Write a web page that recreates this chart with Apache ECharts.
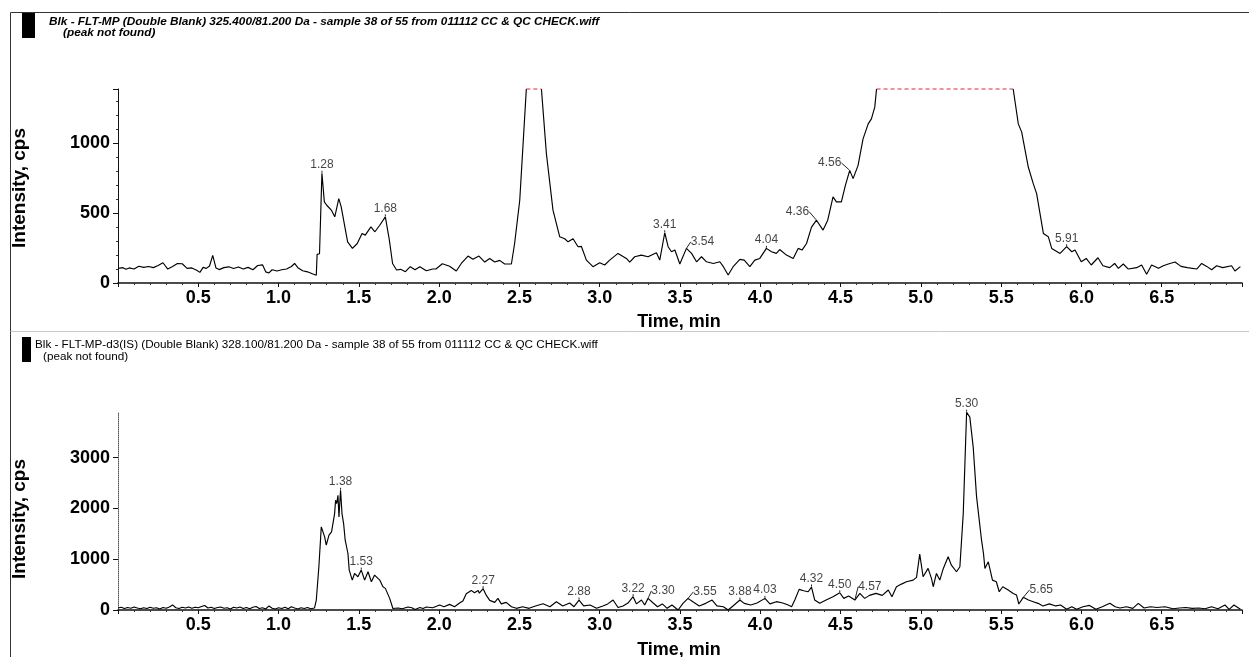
<!DOCTYPE html>
<html><head><meta charset="utf-8">
<script src="https://cdn.jsdelivr.net/npm/echarts@6/dist/echarts.min.js"></script>
<style>html,body{margin:0;padding:0;background:#fff}#c{width:1249px;height:657px}</style>
</head><body><div id="c"></div>
<script>
// ---------- DATA ----------
const topTitle = 'Blk - FLT-MP (Double Blank) 325.400/81.200 Da - sample 38 of 55 from 011112 CC & QC CHECK.wiff';
const bottomTitle = 'Blk - FLT-MP-d3(IS) (Double Blank) 328.100/81.200 Da - sample 38 of 55 from 011112 CC & QC CHECK.wiff';
const subTitle = '(peak not found)';
const xTitle = 'Time, min';
const yTitle = 'Intensity, cps';

const topSaturation = 1390;          // detector saturation level (cps)
const topSaturatedRanges = [[2.543, 2.637], [4.724, 5.575]];

// [time (min), intensity (cps)]
const topTrace = [
[0.00,105],[0.03,110],[0.05,98],[0.07,108],[0.10,100],[0.13,120],[0.16,112],[0.19,118],[0.22,110],[0.25,125],
[0.28,145],[0.31,100],[0.34,118],[0.37,140],[0.40,138],[0.43,105],[0.46,108],[0.49,92],[0.51,76],[0.53,112],
[0.55,105],[0.57,122],[0.59,198],[0.61,108],[0.63,96],[0.66,110],[0.69,116],[0.72,104],[0.75,115],[0.78,100],
[0.81,112],[0.84,95],[0.87,125],[0.90,130],[0.92,80],[0.94,72],[0.96,95],[0.99,86],[1.02,95],[1.05,100],
[1.08,118],[1.10,140],[1.12,110],[1.15,88],[1.18,80],[1.21,66],[1.235,55],[1.24,205],[1.255,210],[1.27,786],
[1.285,581],[1.30,557],[1.33,520],[1.35,474],[1.375,605],[1.39,545],[1.43,295],[1.46,248],[1.49,283],[1.52,355],
[1.54,343],[1.575,402],[1.60,367],[1.63,414],[1.665,474],[1.69,307],[1.71,140],[1.735,93],[1.76,98],[1.79,81],
[1.82,117],[1.85,95],[1.88,117],[1.92,88],[1.96,100],[1.98,100],[2.02,138],[2.065,120],[2.107,86],[2.138,140],
[2.18,193],[2.21,170],[2.248,193],[2.284,150],[2.315,176],[2.346,150],[2.377,162],[2.408,136],[2.45,136],[2.47,283],
[2.502,593],[2.543,1390],[2.59,null],[2.637,1390],[2.668,926],[2.709,522],[2.751,331],[2.782,317],[2.803,295],[2.834,317],
[2.865,260],[2.886,262],[2.917,164],[2.958,117],[3.0,145],[3.031,129],[3.062,164],[3.114,212],[3.166,176],[3.187,150],
[3.218,188],[3.259,200],[3.301,188],[3.353,217],[3.374,164],[3.405,360],[3.426,260],[3.447,224],[3.468,236],[3.499,136],
[3.54,248],[3.572,212],[3.603,152],[3.634,188],[3.665,152],[3.707,140],[3.748,152],[3.77,117],[3.80,57],[3.831,117],
[3.873,169],[3.90,164],[3.935,117],[3.966,164],[3.997,176],[4.038,248],[4.07,224],[4.10,212],[4.121,240],[4.163,200],
[4.205,176],[4.236,248],[4.26,236],[4.288,283],[4.319,400],[4.35,450],[4.391,379],[4.42,450],[4.453,617],[4.474,581],
[4.505,581],[4.53,700],[4.557,807],[4.578,748],[4.609,843],[4.640,1033],[4.65,1033],[4.672,1140],[4.692,1176],[4.713,1260],
[4.724,1390],[5.10,null],[5.575,1390],[5.607,1140],[5.628,1081],[5.669,831],[5.700,712],[5.721,640],[5.763,355],[5.794,331],
[5.815,248],[5.867,212],[5.908,260],[5.94,224],[5.96,236],[5.999,152],[6.03,176],[6.061,129],[6.103,181],[6.134,124],
[6.176,110],[6.207,140],[6.23,105],[6.261,136],[6.292,100],[6.344,110],[6.375,129],[6.406,62],[6.437,129],[6.48,105],
[6.51,124],[6.541,136],[6.583,150],[6.62,119],[6.66,110],[6.718,100],[6.749,140],[6.78,119],[6.811,95],[6.842,124],
[6.88,110],[6.935,124],[6.956,86],[6.99,117]
];

const bottomTrace = [
[0.00,40],[0.02,55],[0.04,30],[0.06,50],[0.08,35],[0.10,60],[0.12,40],[0.14,25],[0.16,45],[0.18,30],
[0.20,55],[0.22,35],[0.24,45],[0.26,20],[0.28,50],[0.30,35],[0.32,60],[0.34,100],[0.36,45],[0.38,30],
[0.40,55],[0.42,40],[0.44,60],[0.46,35],[0.48,55],[0.50,45],[0.52,70],[0.54,90],[0.56,40],[0.58,55],
[0.60,30],[0.62,50],[0.64,60],[0.66,35],[0.68,45],[0.70,20],[0.72,55],[0.74,40],[0.76,60],[0.78,30],
[0.80,50],[0.82,25],[0.84,55],[0.86,70],[0.88,30],[0.90,45],[0.92,20],[0.94,80],[0.96,35],[0.98,20],
[1.00,45],[1.02,30],[1.04,55],[1.06,25],[1.08,65],[1.10,40],[1.12,20],[1.14,45],[1.16,30],[1.18,50],
[1.20,25],[1.224,40],[1.235,196],[1.251,851],[1.266,1637],[1.287,1440],[1.297,1277],[1.314,1473],[1.33,1539],[1.349,1899],
[1.355,2161],[1.362,2096],[1.370,2260],[1.376,1833],[1.386,2358],[1.395,1899],[1.405,1703],[1.415,1375],[1.432,1113],[1.44,786],
[1.459,589],[1.473,720],[1.494,655],[1.515,786],[1.536,589],[1.557,753],[1.578,557],[1.598,688],[1.63,589],[1.650,458],
[1.665,426],[1.692,229],[1.712,30],[1.744,40],[1.77,25],[1.806,60],[1.83,45],[1.85,10],[1.88,50],[1.90,30],
[1.920,59],[1.96,45],[2.003,98],[2.03,65],[2.065,111],[2.096,65],[2.127,137],[2.148,177],[2.169,321],[2.200,386],
[2.22,340],[2.243,386],[2.25,330],[2.274,419],[2.294,288],[2.315,190],[2.346,150],[2.366,229],[2.387,120],[2.418,150],
[2.450,65],[2.481,33],[2.52,65],[2.56,33],[2.60,80],[2.647,124],[2.69,65],[2.730,164],[2.77,80],[2.813,137],
[2.84,65],[2.871,196],[2.90,80],[2.94,98],[2.98,33],[3.02,80],[3.05,120],[3.083,196],[3.114,50],[3.145,80],
[3.176,137],[3.208,262],[3.229,120],[3.26,196],[3.28,98],[3.301,229],[3.333,137],[3.36,65],[3.39,120],[3.42,33],
[3.45,98],[3.488,0],[3.52,137],[3.550,229],[3.58,164],[3.62,80],[3.66,131],[3.70,196],[3.73,80],[3.77,65],
[3.80,0],[3.83,80],[3.873,196],[3.90,131],[3.94,98],[3.98,137],[4.029,229],[4.06,120],[4.10,164],[4.14,137],
[4.174,98],[4.195,65],[4.215,196],[4.242,406],[4.27,380],[4.298,360],[4.319,452],[4.339,196],[4.37,131],[4.41,196],
[4.453,262],[4.495,340],[4.52,229],[4.55,275],[4.589,196],[4.620,327],[4.65,229],[4.68,288],[4.72,327],[4.76,288],
[4.797,393],[4.82,262],[4.848,458],[4.879,510],[4.910,557],[4.952,589],[4.973,642],[4.993,1100],[5.014,655],[5.045,819],
[5.066,622],[5.077,458],[5.097,720],[5.118,589],[5.14,819],[5.170,1048],[5.19,884],[5.222,753],[5.243,851],[5.264,1899],
[5.285,3896],[5.305,3798],[5.326,3209],[5.347,2227],[5.378,1375],[5.39,1113],[5.399,819],[5.42,950],[5.446,589],[5.47,557],
[5.488,360],[5.51,458],[5.544,393],[5.575,327],[5.596,295],[5.61,118],[5.638,249],[5.67,196],[5.70,164],[5.73,131],
[5.76,80],[5.80,120],[5.84,80],[5.87,98],[5.908,13],[5.94,65],[5.97,13],[6.01,65],[6.05,90],[6.09,13],
[6.13,65],[6.177,131],[6.21,65],[6.24,40],[6.28,65],[6.32,33],[6.354,131],[6.39,40],[6.43,65],[6.47,50],
[6.52,65],[6.57,25],[6.61,40],[6.65,50],[6.69,33],[6.73,40],[6.77,25],[6.81,65],[6.85,25],[6.894,98],
[6.92,13],[6.95,98],[6.99,13]
];

// labelled peaks [time, cps]
const topPeaks = [[1.27,786],[1.665,474],[3.405,360],[3.54,248],[4.038,248],[4.35,450],[4.557,807],[5.908,260]];
const topPeakLabels = ['1.28','1.68','3.41','3.54','4.04','4.36','4.56','5.91'];
const bottomPeaks = [[1.386,2358],[1.515,786],[2.274,419],[2.871,196],[3.208,262],[3.301,229],[3.550,229],[3.873,196],[4.029,229],[4.319,452],[4.495,340],[4.589,196],[5.285,3896],[5.638,249]];
const bottomPeakLabels = ['1.38','1.53','2.27','2.88','3.22','3.30','3.55','3.88','4.03','4.32','4.50','4.57','5.30','5.65'];

const topYTicks = {min: 0, max: 1390, step: 500};
const bottomYTicks = {min: 0, max: 3900, step: 1000};
const xTicks = {min: 0, max: 7, step: 0.5};

// ---------- STYLE / LAYOUT ----------
const FONT = '"Liberation Sans", Arial, sans-serif';
const leaderShift = { // label displacement (px) for labels drawn with a leader line
  top: {'3.54': [16, 2], '4.36': [-19, 0], '4.56': [-20, 1]},
  bottom: {'3.30': [15, 1], '3.55': [17, 2], '4.57': [15, -5], '5.65': [18, 1]}
};

const chart = echarts.init(document.getElementById('c'), null, {renderer: 'canvas'});

function xAxis(gi) {
  return {
    type: 'value', gridIndex: gi, min: xTicks.min, max: xTicks.max, interval: xTicks.step,
    axisLine: {show: true, onZero: false, lineStyle: {color: '#111', width: 1.5}},
    axisTick: {show: true, length: 4, lineStyle: {color: '#111'}},
    minorTick: {show: true, splitNumber: 5, length: 2, lineStyle: {color: '#333'}},
    axisLabel: {show: true, showMinLabel: false, showMaxLabel: false, margin: 6, color: '#000',
      fontFamily: FONT, fontSize: 18, fontWeight: 'bold', formatter: v => v.toFixed(1)},
    splitLine: {show: false}
  };
}
function yAxis(gi, t, dotted) {
  return {
    type: 'value', gridIndex: gi, min: t.min, max: t.max, interval: t.step,
    axisLine: {show: true, onZero: false, lineStyle: {color: dotted ? '#555' : '#111', width: 1, type: dotted ? 'dotted' : 'solid'}},
    axisTick: {show: true, length: 5, lineStyle: {color: '#111'}},
    minorTick: {show: !dotted, splitNumber: 5, length: 2, lineStyle: {color: '#333'}},
    axisLabel: {show: true, showMaxLabel: false, margin: 8, color: '#000',
      fontFamily: FONT, fontSize: 18, fontWeight: 'bold', formatter: v => String(v)},
    splitLine: {show: false}
  };
}
function peakSeries(xi, peaks, labels, shifts) {
  return {
    type: 'scatter', xAxisIndex: xi, yAxisIndex: xi, symbolSize: 1, z: 5,
    itemStyle: {color: 'rgba(0,0,0,0)'},
    data: peaks.map((p, i) => ({value: p, name: labels[i]})),
    label: {show: true, position: 'top', distance: 2, formatter: p => p.name,
      color: '#111', fontFamily: FONT, fontSize: 12},
    labelLine: {show: true, lineStyle: {color: '#222', width: 1}},
    labelLayout: function (params) {
      const s = shifts[params.text];
      return s ? {dx: s[0], dy: s[1]} : {};
    },
    silent: true
  };
}

const satData = [];
topSaturatedRanges.forEach((r, i) => {
  if (i) satData.push([r[0] - 0.01, null]);
  satData.push([r[0], topSaturation], [r[1], topSaturation]);
});

const option = {
  backgroundColor: '#fff',
  animation: false,
  grid: [
    {left: 118, right: 7, top: 89, height: 194},
    {left: 118, right: 7, top: 412, height: 198}
  ],
  xAxis: [xAxis(0), xAxis(1)],
  yAxis: [yAxis(0, topYTicks, false), yAxis(1, bottomYTicks, true)],
  series: [
    {type: 'line', xAxisIndex: 0, yAxisIndex: 0, data: topTrace, showSymbol: false, connectNulls: false,
     lineStyle: {color: '#000', width: 1.15}, z: 3, clip: false},
    {type: 'line', xAxisIndex: 0, yAxisIndex: 0, data: satData, showSymbol: false, connectNulls: false, clip: false,
     lineStyle: {color: '#e2262e', width: 1.2, type: [4, 3]}, z: 4},
    {type: 'line', xAxisIndex: 1, yAxisIndex: 1, data: bottomTrace, showSymbol: false, clip: false,
     lineStyle: {color: '#000', width: 1.15}, z: 3},
    peakSeries(0, topPeaks, topPeakLabels, leaderShift.top),
    peakSeries(1, bottomPeaks, bottomPeakLabels, leaderShift.bottom)
  ],
  graphic: [
    {type: 'line', shape: {x1: 10.5, y1: 12.5, x2: 1249, y2: 12.5}, style: {stroke: '#333', lineWidth: 1}},
    {type: 'line', shape: {x1: 10.5, y1: 12.5, x2: 10.5, y2: 657}, style: {stroke: '#333', lineWidth: 1}},
    {type: 'line', shape: {x1: 10.5, y1: 331.5, x2: 1249, y2: 331.5}, style: {stroke: '#c8c8c4', lineWidth: 1}},
    {type: 'rect', shape: {x: 22, y: 13, width: 13, height: 25}, style: {fill: '#000'}},
    {type: 'rect', shape: {x: 22, y: 337, width: 9, height: 25}, style: {fill: '#000'}},
    {type: 'text', x: 49, y: 22, style: {text: topTitle, font: 'italic bold 11.8px ' + FONT, fill: '#000', textVerticalAlign: 'middle'}},
    {type: 'text', x: 63, y: 32.5, style: {text: subTitle, font: 'italic bold 11.8px ' + FONT, fill: '#000', textVerticalAlign: 'middle'}},
    {type: 'text', x: 35, y: 345, style: {text: bottomTitle, font: '11.7px ' + FONT, fill: '#000', textVerticalAlign: 'middle'}},
    {type: 'text', x: 43, y: 357, style: {text: subTitle, font: '11.7px ' + FONT, fill: '#000', textVerticalAlign: 'middle'}},
    {type: 'text', x: 20, y: 188, rotation: Math.PI / 2, style: {text: yTitle, font: 'bold 19px ' + FONT, fill: '#000', textAlign: 'center', textVerticalAlign: 'middle'}},
    {type: 'text', x: 20, y: 519, rotation: Math.PI / 2, style: {text: yTitle, font: 'bold 19px ' + FONT, fill: '#000', textAlign: 'center', textVerticalAlign: 'middle'}},
    {type: 'text', x: 679, y: 322, style: {text: xTitle, font: 'bold 18px ' + FONT, fill: '#000', textAlign: 'center', textVerticalAlign: 'middle'}},
    {type: 'text', x: 679, y: 650, style: {text: xTitle, font: 'bold 18px ' + FONT, fill: '#000', textAlign: 'center', textVerticalAlign: 'middle'}}
  ]
};
chart.setOption(option);
</script>
</body></html>
